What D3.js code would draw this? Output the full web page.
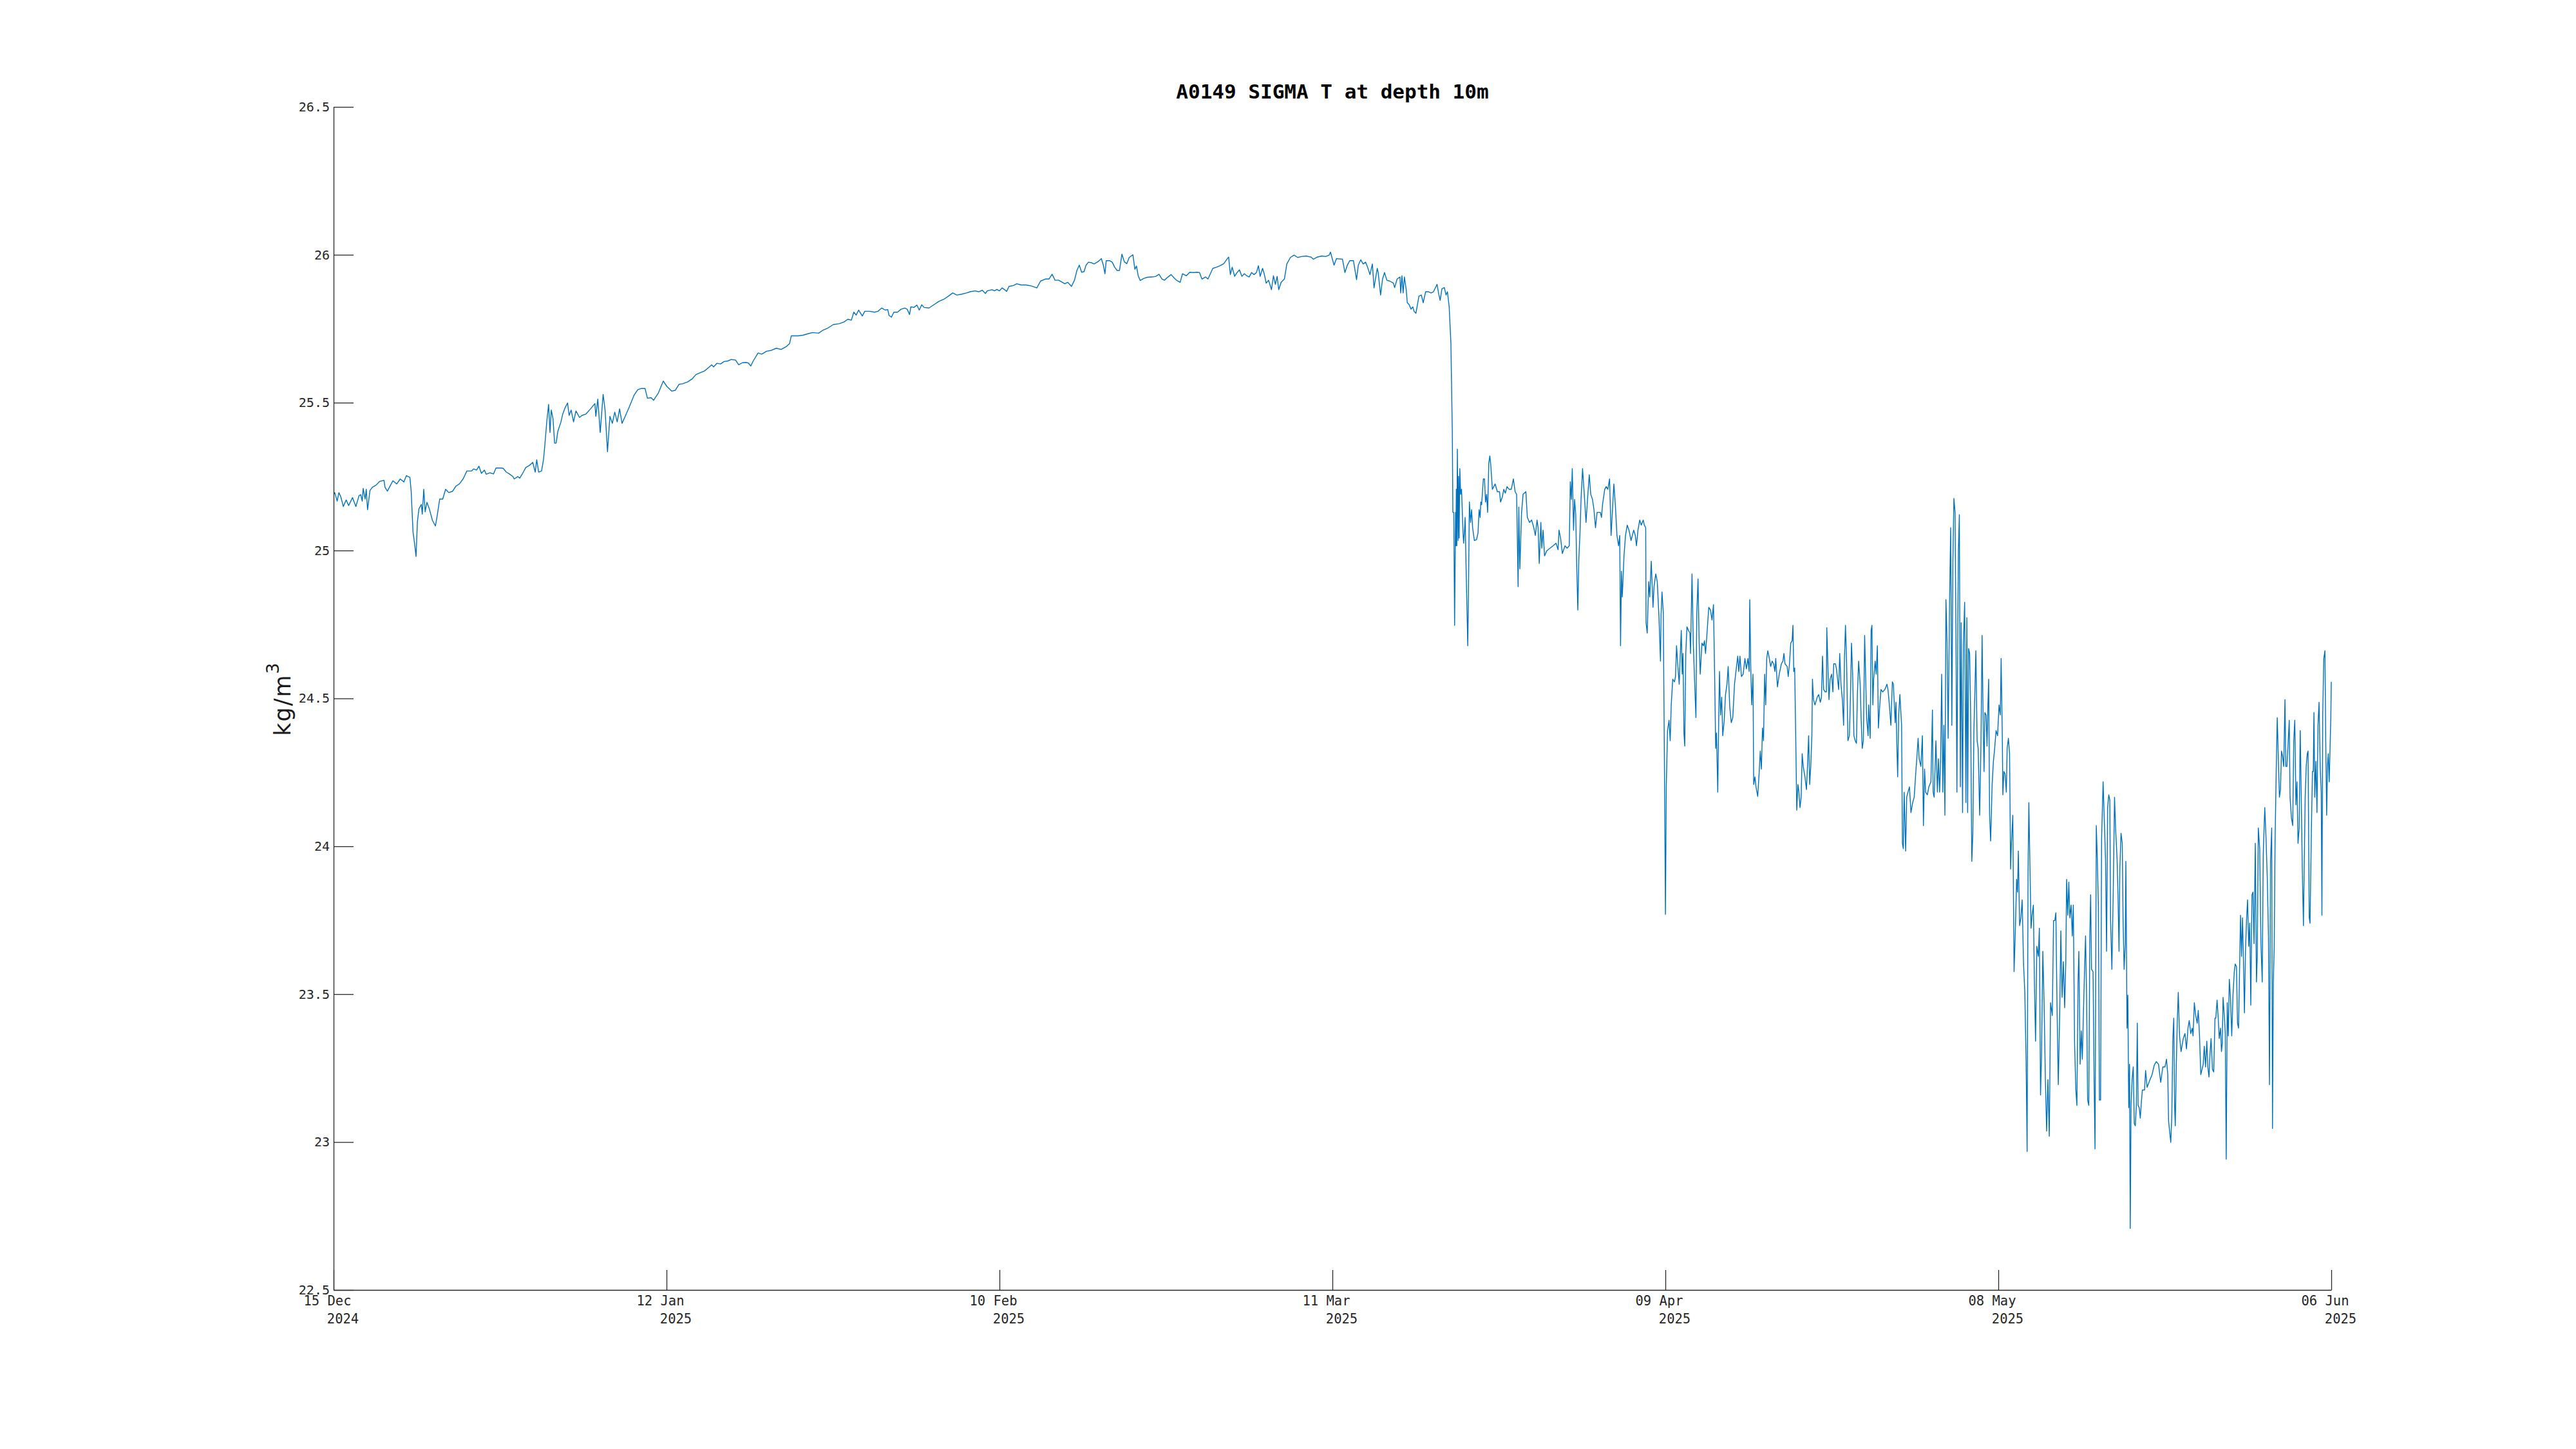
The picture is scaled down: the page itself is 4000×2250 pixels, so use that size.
<!DOCTYPE html>
<html><head><meta charset="utf-8">
<script src="https://cdn.jsdelivr.net/npm/d3@7"></script>
<style>html,body{margin:0;padding:0;background:#fff;}</style>
</head><body>
<svg id="chart" width="4000" height="2250" xmlns="http://www.w3.org/2000/svg"></svg>
<script>
// ---- DATA ----
const chartTitle = "A0149 SIGMA T at depth 10m";
const startDate = Date.UTC(2024, 11, 15);   // 15 Dec 2024
const endDate = Date.UTC(2025, 5, 6);       // 06 Jun 2025
const yTicks = [22.5, 23, 23.5, 24, 24.5, 25, 25.5, 26, 26.5];
const xTickLabels = ["15 Dec", "12 Jan", "10 Feb", "11 Mar", "09 Apr", "08 May", "06 Jun"];
const xTickYears = ["2024", "2025", "2025", "2025", "2025", "2025", "2025"];

// days since 15 Dec 2024
const dayOffset = [
0.02,0.10,0.31,0.46,0.63,0.84,1.09,1.30,1.64,1.93,2.20,2.35,2.48,2.56,2.73,2.83,2.94,3.15,3.36,3.67,3.99,4.37,4.45,4.66,4.93,5.14,5.46,5.77,6.09,6.30,6.61,6.72,6.88,7.01,7.14,7.26,7.39,7.60,7.68,7.81,7.93,8.08,8.29,8.56,8.82,8.98,9.19,9.45,9.70,9.97,10.29,10.60,10.91,11.23,11.54,11.96,12.13,12.38,12.59,12.80,13.06,13.22,13.54,13.85,14.06,14.48,14.69,14.94,15.22,15.53,15.64,15.95,16.12,16.37,16.65,16.96,17.25,17.46,17.59,17.76,18.01,18.18,18.30,18.47,18.62,18.74,18.85,19.00,19.14,19.27,19.42,19.69,19.84,20.05,20.26,20.40,20.57,20.78,20.99,21.30,21.51,21.83,22.25,22.63,22.71,22.88,23.09,23.34,23.51,23.72,23.93,24.14,24.35,24.56,24.77,24.98,25.29,25.61,26.03,26.34,26.66,26.97,27.18,27.50,27.71,28.13,28.55,28.86,29.28,29.60,29.91,30.23,30.65,31.07,31.38,31.80,32.11,32.43,32.74,32.91,
33.19,33.51,33.82,34.14,34.45,34.81,35.08,35.40,35.71,35.92,36.13,36.34,36.76,37.08,37.50,37.92,38.34,38.76,39.18,39.49,39.64,39.91,40.23,40.65,41.07,41.49,42.01,42.33,42.75,43.27,43.79,44.21,44.53,44.84,45.05,45.26,45.47,45.79,46.00,46.42,46.84,47.15,47.47,47.78,47.99,48.10,48.31,48.52,48.83,49.15,49.46,49.67,49.88,49.99,50.26,50.51,50.72,50.93,51.14,51.56,51.98,52.40,52.82,53.24,53.62,53.97,54.40,54.81,55.13,55.55,55.86,56.18,56.45,56.60,57.02,57.23,57.44,57.65,57.90,58.11,58.28,58.49,58.87,59.16,59.54,59.96,60.38,60.69,60.90,61.22,61.64,61.95,62.22,62.48,62.79,63.11,63.32,63.57,63.90,64.16,64.37,64.58,64.78,64.99,65.16,65.37,
65.65,65.86,66.17,66.38,66.49,66.66,66.80,66.91,67.22,67.43,67.64,67.85,68.06,68.27,68.48,68.69,68.90,69.22,69.39,69.53,69.68,69.85,70.16,70.48,70.90,71.21,71.48,71.74,71.95,72.26,72.53,72.79,72.99,73.31,73.52,73.84,74.15,74.47,74.78,74.99,75.20,75.51,75.72,75.93,76.14,76.46,76.77,77.09,77.40,77.51,77.66,77.82,78.03,78.24,78.45,78.66,78.87,79.08,79.29,79.50,79.71,79.92,80.09,80.24,80.45,80.59,80.76,80.97,81.22,81.39,81.56,81.71,81.85,82.06,82.34,82.55,82.86,83.18,83.49,83.81,84.23,84.65,84.85,85.17,85.59,85.90,86.22,86.33,86.64,86.85,87.37,87.58,87.79,88.00,88.32,88.59,88.74,88.95,89.16,89.37,89.58,89.75,89.96,90.10,90.38,90.46,90.67,90.84,91.01,91.21,91.47,91.78,91.89,92.10,92.35,92.41,92.52,92.62,92.73,92.89,92.98,93.15,93.31,93.46,93.57,93.73,93.99,94.20,94.36,94.57,94.83,95.04,95.25,95.56,95.71,95.83,95.98,96.19,96.34,96.46,96.61,96.76,96.88,
96.93,97.01,97.08,97.16,97.19,97.23,97.27,97.32,97.38,97.42,97.47,97.53,97.60,97.68,97.81,97.86,97.94,97.99,98.08,98.22,98.27,98.36,98.46,98.55,98.64,98.79,98.98,99.11,99.20,99.29,99.35,99.42,99.57,99.67,99.76,99.85,99.94,100.04,100.13,100.22,100.35,100.59,100.78,100.97,101.06,101.21,101.34,101.47,101.62,101.80,101.99,102.17,102.32,102.45,102.58,102.64,102.73,102.88,103.01,103.25,103.38,103.57,103.75,103.94,104.07,104.22,104.31,104.41,104.55,104.63,104.74,104.87,105.06,105.34,105.61,105.86,106.04,106.12,106.26,106.41,106.64,106.82,107.01,107.10,107.19,107.27,107.38,107.47,107.57,107.66,107.75,107.84,107.94,108.03,108.16,108.31,108.46,108.59,108.74,108.87,109.02,109.15,109.28,109.42,109.70,109.80,109.89,110.08,110.21,110.35,110.50,110.63,110.73,110.87,111.00,111.14,111.28,111.38,111.45,111.53,111.60,111.75,111.88,112.03,112.18,112.36,112.59,112.73,112.83,112.96,113.11,113.24,113.42,113.51,113.63,113.66,113.76,113.89,113.98,114.11,114.26,114.35,114.50,114.63,114.78,114.91,114.96,115.04,115.15,115.24,115.34,115.41,115.52,115.65,115.75,115.84,115.97,116.12,
116.21,116.30,116.40,116.53,116.60,116.71,116.79,116.86,116.94,117.01,117.10,117.20,117.33,117.46,117.51,117.64,117.75,117.88,117.98,118.05,118.16,118.26,118.35,118.50,118.63,118.72,118.81,118.91,119.00,119.09,119.24,119.37,119.50,119.61,119.69,119.76,119.87,119.95,120.02,120.11,120.21,120.30,120.43,120.54,120.67,120.77,120.91,121.04,121.17,121.32,121.47,121.60,121.69,121.79,121.92,122.07,122.22,122.35,122.48,122.59,122.64,122.72,122.81,122.92,122.98,123.09,123.18,123.33,123.46,123.55,123.65,123.74,123.83,123.93,124.02,124.11,124.20,124.30,124.45,124.58,124.71,124.82,124.89,125.04,125.19,125.38,125.51,125.60,125.69,125.88,125.97,126.08,126.19,126.31,126.38,126.45,126.53,126.62,126.71,126.81,126.90,126.99,127.09,127.18,127.27,127.42,127.55,127.64,127.74,127.83,127.92,128.02,128.07,128.16,128.29,128.48,128.61,128.75,128.85,128.94,129.04,129.17,129.28,129.31,129.43,129.50,129.60,129.73,129.84,129.91,130.06,130.15,130.34,130.43,130.54,130.66,130.77,130.84,130.93,131.03,131.14,131.27,131.36,131.45,131.55,131.66,131.77,131.88,131.96,132.07,132.20,132.29,132.38,132.48,132.59,132.66,132.76,132.89,132.94,133.07,133.15,133.22,133.30,133.37,133.50,133.59,133.69,133.78,133.87,134.00,134.15,134.34,134.52,134.61,134.71,134.86,134.99,135.08,135.23,135.30,135.38,135.45,135.54,135.64,
135.79,135.86,135.94,136.01,136.14,136.23,136.34,136.47,136.60,136.75,136.88,137.01,137.12,137.22,137.31,137.46,137.59,137.68,137.78,137.87,138.02,138.15,138.33,138.46,138.52,138.61,138.76,138.89,138.98,139.08,139.17,139.26,139.36,139.45,139.54,139.63,139.73,139.82,139.95,140.04,140.14,140.23,140.32,140.42,140.51,140.58,140.66,140.71,140.79,140.88,140.95,141.07,141.14,141.25,141.36,141.44,141.51,141.59,141.68,141.77,141.87,141.96,142.05,142.14,142.22,142.33,142.42,142.55,142.66,142.76,142.85,142.93,143.00,143.11,143.19,143.26,143.33,143.41,143.50,143.63,143.74,143.85,143.97,144.10,144.23,144.34,144.41,144.51,144.56,144.65,144.75,144.86,144.93,145.04,145.14,145.23,145.30,145.42,145.53,145.64,145.75,145.83,145.90,146.01,146.12,146.23,146.35,146.46,146.57,146.66,146.74,146.81,146.90,147.00,147.09,147.20,147.29,147.39,147.50,147.63,147.72,147.82,147.91,148.02,148.13,148.24,148.35,148.46,148.58,148.69,148.84,148.95,149.06,149.15,149.25,149.36,149.49,149.58,149.69,149.80,149.91,150.01,150.08,150.18,150.27,150.36,150.47,150.57,150.66,150.77,150.88,150.97,151.07,151.14,151.25,151.35,151.44,151.53,151.63,151.72,151.81,151.90,152.00,152.09,152.16,152.24,152.37,152.46,152.54,152.65,152.74,152.83,152.92,153.02,153.11,153.24,153.35,153.45,153.54,153.63,153.73,153.82,153.89,154.00,154.12,154.23,154.32,154.45,154.53,154.62,154.69,154.79,154.90,154.97,155.06,155.16,
155.21,155.31,155.38,155.46,155.53,155.59,155.66,155.75,155.85,155.94,156.03,156.12,156.20,156.27,156.37,156.46,156.55,156.64,156.83,156.92,157.05,157.30,157.48,157.67,157.85,158.04,158.23,158.41,158.60,158.73,158.84,158.91,159.02,159.10,159.19,159.28,159.36,159.43,159.49,159.58,159.66,159.75,159.86,159.99,160.18,160.33,160.46,160.59,160.70,160.83,160.96,161.03,161.14,161.26,161.39,161.48,161.59,161.70,161.81,161.91,162.00,162.11,162.22,162.31,162.41,162.50,162.59,162.71,162.82,162.93,163.00,163.11,163.21,163.30,163.41,163.49,163.56,163.63,163.75,163.82,163.90,163.99,164.08,164.17,164.27,164.38,164.49,164.60,164.68,164.79,164.88,164.97,165.07,165.14,165.23,165.31,165.38,165.48,165.57,165.66,165.75,165.85,165.94,166.03,166.13,166.22,166.31,166.42,166.52,166.59,166.68,166.80,166.91,167.02,167.11,167.24,167.35,167.46,167.56,167.65,167.74,167.84,167.91,167.98,168.06,168.13,168.23,168.32,168.41,168.51,168.60,168.69,168.78,168.88,168.99,169.06,169.16,169.25,169.36,169.43,169.55,169.66,169.75,169.84,169.94,170.03,170.12,170.22,170.31,170.40,170.49,170.59,170.66,170.74,170.83,170.92,170.99,171.09,171.16,171.28,171.37,171.44,171.50,171.57,171.67,171.76,171.85,171.94,172.04,172.13,172.19,172.26,172.35,172.45,172.52,172.60,172.67,172.74,172.82,172.91,172.96,173.00
];

// sigma-t, kg/m^3
const sigmaT = [
25.190,25.196,25.167,25.196,25.181,25.149,25.171,25.152,25.179,25.149,25.185,25.189,25.167,25.210,25.174,25.207,25.138,25.203,25.214,25.221,25.234,25.237,25.214,25.201,25.221,25.236,25.225,25.242,25.232,25.253,25.247,25.200,25.062,25.025,24.980,25.098,25.141,25.156,25.123,25.207,25.131,25.163,25.141,25.102,25.083,25.120,25.174,25.174,25.207,25.196,25.200,25.218,25.226,25.243,25.269,25.269,25.276,25.272,25.285,25.261,25.272,25.258,25.263,25.259,25.279,25.279,25.278,25.266,25.259,25.250,25.242,25.250,25.245,25.261,25.281,25.288,25.298,25.265,25.307,25.265,25.269,25.308,25.359,25.439,25.494,25.399,25.475,25.446,25.363,25.363,25.403,25.435,25.461,25.483,25.499,25.457,25.475,25.435,25.472,25.450,25.457,25.461,25.479,25.497,25.454,25.512,25.399,25.528,25.475,25.334,25.454,25.430,25.468,25.435,25.479,25.430,25.457,25.486,25.526,25.544,25.548,25.548,25.515,25.517,25.508,25.533,25.573,25.555,25.539,25.542,25.562,25.564,25.570,25.581,25.595,25.602,25.607,25.617,25.628,25.621,
25.633,25.631,25.639,25.641,25.646,25.644,25.628,25.635,25.636,25.634,25.624,25.641,25.668,25.664,25.674,25.677,25.684,25.680,25.689,25.700,25.726,25.726,25.726,25.728,25.733,25.737,25.735,25.744,25.751,25.764,25.767,25.773,25.782,25.779,25.806,25.796,25.813,25.793,25.809,25.809,25.806,25.809,25.820,25.813,25.815,25.795,25.789,25.806,25.806,25.816,25.820,25.816,25.798,25.824,25.822,25.830,25.813,25.831,25.822,25.820,25.831,25.842,25.849,25.860,25.871,25.864,25.867,25.871,25.875,25.878,25.875,25.880,25.869,25.878,25.882,25.878,25.883,25.878,25.888,25.882,25.876,25.893,25.896,25.902,25.898,25.898,25.895,25.891,25.888,25.911,25.918,25.918,25.934,25.914,25.914,25.907,25.902,25.907,25.893,25.914,25.947,25.965,25.941,25.943,25.965,25.975,
25.973,25.969,25.976,25.983,25.987,25.965,25.936,25.980,25.980,25.975,25.958,25.947,25.947,26.002,25.976,25.970,25.991,26.000,25.951,25.962,25.929,25.913,25.920,25.924,25.925,25.927,25.934,25.918,25.914,25.925,25.933,25.922,25.914,25.907,25.936,25.929,25.941,25.940,25.941,25.940,25.918,25.925,25.918,25.936,25.954,25.958,25.963,25.970,25.987,25.992,25.933,25.958,25.927,25.940,25.949,25.927,25.936,25.929,25.925,25.940,25.933,25.940,25.963,25.927,25.954,25.936,25.904,25.914,25.882,25.929,25.900,25.927,25.882,25.907,25.918,25.969,25.991,25.999,25.991,25.994,25.996,25.992,25.985,25.992,25.996,25.994,25.999,26.009,25.965,25.987,25.985,25.940,25.965,25.980,25.980,25.916,25.965,25.983,25.969,25.975,25.954,25.933,25.969,25.888,25.954,25.940,25.864,25.918,25.940,25.914,25.911,25.904,25.889,25.918,25.925,25.871,25.929,25.871,25.925,25.882,25.838,25.831,25.816,25.824,25.809,25.802,25.860,25.864,25.838,25.875,25.875,25.871,25.875,25.900,25.866,25.846,25.885,25.889,25.864,25.875,25.824,25.700,25.403,
25.129,25.129,24.747,25.129,25.016,25.207,25.016,25.343,25.034,25.251,25.042,25.277,25.190,25.207,25.060,25.025,25.069,25.112,24.930,24.678,24.825,25.164,25.095,25.138,25.077,25.034,25.037,25.060,25.138,25.112,25.164,25.155,25.242,25.242,25.164,25.190,25.129,25.294,25.320,25.286,25.207,25.225,25.199,25.199,25.164,25.181,25.207,25.194,25.216,25.207,25.207,25.242,25.199,25.190,24.878,25.147,24.938,25.129,25.190,25.199,25.112,25.095,25.103,25.077,25.051,25.103,25.077,24.956,25.095,25.008,25.069,24.982,24.999,25.008,25.016,25.025,25.003,25.069,25.042,24.990,25.016,25.008,25.016,25.233,25.173,25.277,25.069,25.173,25.121,24.938,24.799,24.973,25.060,25.173,25.277,25.190,25.095,25.173,25.256,25.190,25.173,25.138,25.077,25.129,25.129,25.112,25.155,25.207,25.216,25.207,25.242,25.051,25.121,25.225,25.155,25.051,25.016,25.051,24.678,24.930,24.843,24.982,25.051,25.086,25.069,25.034,25.069,25.051,25.016,25.069,25.103,25.086,25.103,25.086,25.077,24.756,24.721,24.895,24.843,24.964,24.808,24.878,24.921,24.895,24.773,24.626,24.782,24.860,24.791,24.339,23.770,24.201,24.391,24.426,24.357,24.478,24.565,24.556,
24.574,24.678,24.617,24.548,24.626,24.730,24.582,24.652,24.383,24.339,24.652,24.742,24.730,24.721,24.652,24.921,24.687,24.539,24.435,24.782,24.904,24.687,24.582,24.687,24.678,24.695,24.652,24.704,24.756,24.808,24.799,24.765,24.817,24.548,24.331,24.383,24.183,24.426,24.591,24.444,24.504,24.374,24.426,24.513,24.548,24.608,24.470,24.418,24.435,24.548,24.600,24.643,24.591,24.643,24.574,24.582,24.635,24.600,24.635,24.591,24.834,24.617,24.478,24.582,24.209,24.235,24.201,24.169,24.253,24.322,24.261,24.400,24.357,24.582,24.478,24.635,24.661,24.643,24.608,24.626,24.617,24.591,24.635,24.539,24.582,24.617,24.626,24.652,24.617,24.608,24.574,24.617,24.687,24.695,24.747,24.591,24.603,24.374,24.122,24.209,24.183,24.131,24.166,24.313,24.270,24.235,24.192,24.270,24.374,24.209,24.270,24.374,24.565,24.496,24.478,24.504,24.513,24.487,24.504,24.643,24.530,24.522,24.522,24.739,24.582,24.496,24.565,24.582,24.522,24.617,24.617,24.600,24.530,24.652,24.548,24.496,24.409,24.635,24.747,24.617,24.357,24.374,24.504,24.687,24.582,24.374,24.357,24.348,24.513,24.626,24.548,24.426,24.331,24.357,24.713,24.600,24.435,24.374,24.478,24.365,24.730,24.747,24.478,24.565,24.626,24.582,24.678,24.400,24.461,24.530,24.522,24.530,24.548,24.530,24.487,24.409,24.556,24.548,24.418,24.487,24.339,24.235,24.444,24.513,
24.409,24.010,23.992,24.183,23.984,24.166,24.183,24.201,24.114,24.148,24.166,24.244,24.305,24.365,24.296,24.270,24.374,24.070,24.261,24.183,24.174,24.201,24.218,24.461,24.183,24.166,24.357,24.183,24.296,24.183,24.296,24.582,24.183,24.409,24.105,24.834,24.687,24.365,24.843,25.077,24.409,24.964,25.176,25.129,24.635,24.183,24.773,24.999,25.121,24.201,24.756,24.114,24.678,24.825,24.148,24.773,24.114,24.669,24.652,24.444,23.949,24.044,24.391,24.530,24.661,24.357,24.331,24.105,24.339,24.713,24.426,24.253,24.452,24.444,24.339,24.470,24.565,24.105,24.018,24.209,24.287,24.331,24.391,24.374,24.478,24.444,24.635,24.374,24.174,24.253,24.244,24.183,24.331,24.365,24.313,23.923,24.010,24.105,23.576,23.714,23.888,23.845,23.984,23.732,23.758,23.819,23.602,23.506,23.280,22.968,23.914,24.148,23.940,23.723,23.767,23.801,23.541,23.341,23.662,23.628,23.723,23.159,23.298,23.645,23.471,23.211,23.037,23.211,23.020,23.471,23.428,23.749,23.749,23.775,23.454,23.194,23.454,23.714,23.489,23.610,23.454,23.610,23.888,23.767,23.879,23.758,23.801,23.697,23.801,23.333,23.176,23.124,23.541,23.645,23.263,23.376,23.280,23.428,23.576,23.697,23.489,23.142,23.124,23.697,23.836,23.584,23.576,23.211,22.977,24.070,23.957,23.801,23.142,23.142,24.027,24.218,24.079,23.957,23.645,24.131,24.174,24.157,23.749,23.584,23.853,24.166,24.062,23.957,23.836,23.645,23.923,24.044,24.010,23.749,23.584,23.671,
23.949,23.385,23.497,23.116,23.263,22.708,23.124,23.211,23.254,23.063,23.055,23.124,23.402,23.124,23.116,23.081,23.133,23.176,23.176,23.242,23.185,23.211,23.228,23.260,23.272,23.263,23.202,23.254,23.254,23.280,23.228,23.072,23.029,22.999,23.089,23.350,23.419,23.124,23.055,23.263,23.402,23.506,23.359,23.306,23.350,23.367,23.315,23.385,23.411,23.367,23.385,23.359,23.471,23.428,23.402,23.445,23.359,23.228,23.246,23.263,23.324,23.254,23.341,23.254,23.220,23.298,23.350,23.246,23.237,23.419,23.419,23.480,23.419,23.350,23.385,23.306,23.333,23.489,23.419,23.367,22.942,23.471,23.359,23.550,23.489,23.359,23.497,23.576,23.602,23.593,23.402,23.385,23.610,23.767,23.628,23.758,23.645,23.437,23.645,23.749,23.819,23.662,23.740,23.463,23.836,23.845,23.671,24.010,23.541,23.628,24.062,23.992,23.671,23.541,23.975,24.131,24.027,23.888,23.697,23.194,23.949,24.062,23.046,23.541,23.662,24.010,24.253,24.435,24.305,24.166,24.192,24.322,24.305,24.270,24.496,24.270,24.270,24.339,24.426,24.166,24.096,24.070,24.357,24.426,24.140,24.218,24.010,24.062,24.391,24.166,23.923,23.732,23.940,24.166,24.270,24.313,24.322,23.758,23.740,24.062,24.253,24.253,24.452,24.166,24.287,24.114,24.409,24.487,24.270,24.183,23.767,24.444,24.635,24.661,24.357,24.105,24.270,24.313,24.218,24.357,24.435,24.556
];

// ---- CHART ----
const W = 4000, H = 2250;
const plot = { left: 518, right: 3620, top: 166, bottom: 2003 };
const axisColor = "#262626";
const monoFont = "'DejaVu Sans Mono', 'Liberation Mono', monospace";

const svg = d3.select("#chart");
svg.append("rect").attr("width", W).attr("height", H).attr("fill", "#ffffff");

const x = d3.scaleUtc().domain([new Date(startDate), new Date(endDate)]).range([plot.left, plot.right]);
const y = d3.scaleLinear().domain([yTicks[0], yTicks[yTicks.length - 1]]).range([plot.bottom, plot.top]);

const points = dayOffset.map((d, i) => ({ t: new Date(startDate + d * 86400000), v: sigmaT[i] }));

// line
const line = d3.line().x(d => x(d.t)).y(d => y(d.v));
svg.append("path")
  .datum(points)
  .attr("fill", "none")
  .attr("stroke", "#0072BD")
  .attr("stroke-width", 1.4)
  .attr("stroke-linejoin", "round")
  .attr("d", line);

// y axis
const yAxis = d3.axisLeft(y)
  .tickValues(yTicks)
  .tickSize(-31)
  .tickSizeOuter(0)
  .tickPadding(6)
  .tickFormat(d => String(d));
const gy = svg.append("g").attr("transform", `translate(${plot.left},0)`).call(yAxis);
gy.selectAll("path.domain").attr("stroke", axisColor).attr("stroke-width", 1.3);
gy.selectAll(".tick line").attr("stroke", axisColor).attr("stroke-width", 1.3);
gy.selectAll(".tick text")
  .attr("font-family", monoFont)
  .attr("font-size", 20)
  .attr("fill", axisColor);

// x axis (ticks evenly spaced across the date range)
const xTickDates = xTickLabels.map((_, i) => new Date(startDate + i * (endDate - startDate) / (xTickLabels.length - 1)));
const xAxis = d3.axisBottom(x)
  .tickValues(xTickDates)
  .tickSize(-31)
  .tickSizeOuter(0)
  .tickFormat("");
const gx = svg.append("g").attr("transform", `translate(0,${plot.bottom})`).call(xAxis);
gx.selectAll("path.domain").attr("stroke", axisColor).attr("stroke-width", 1.3);
gx.selectAll(".tick line").attr("stroke", axisColor).attr("stroke-width", 1.3);
gx.selectAll(".tick text").remove();
gx.selectAll(".tick").each(function (d, i) {
  const g = d3.select(this);
  g.append("text")
    .attr("x", -10).attr("y", 24)
    .attr("text-anchor", "middle")
    .attr("font-family", monoFont).attr("font-size", 20.5).attr("fill", axisColor)
    .text(xTickLabels[i]);
  g.append("text")
    .attr("x", 14).attr("y", 52)
    .attr("text-anchor", "middle")
    .attr("font-family", monoFont).attr("font-size", 20.5).attr("fill", axisColor)
    .text(xTickYears[i]);
});

// title
svg.append("text")
  .attr("x", (plot.left + plot.right) / 2)
  .attr("y", 153)
  .attr("text-anchor", "middle")
  .attr("font-family", monoFont)
  .attr("font-weight", "bold")
  .attr("font-size", 31)
  .attr("fill", "#000")
  .text(chartTitle);

// y label
const yl = svg.append("text")
  .attr("transform", `translate(451,1086) rotate(-90)`)
  .attr("text-anchor", "middle")
  .attr("font-family", "'DejaVu Sans', 'Liberation Sans', sans-serif")
  .attr("font-size", 35)
  .attr("letter-spacing", 2)
  .attr("fill", "#1a1a1a");
yl.append("tspan").text("kg/m");
yl.append("tspan").attr("baseline-shift", "18px").attr("font-size", 27).attr("letter-spacing", 0).text("3");
</script>
</body></html>
